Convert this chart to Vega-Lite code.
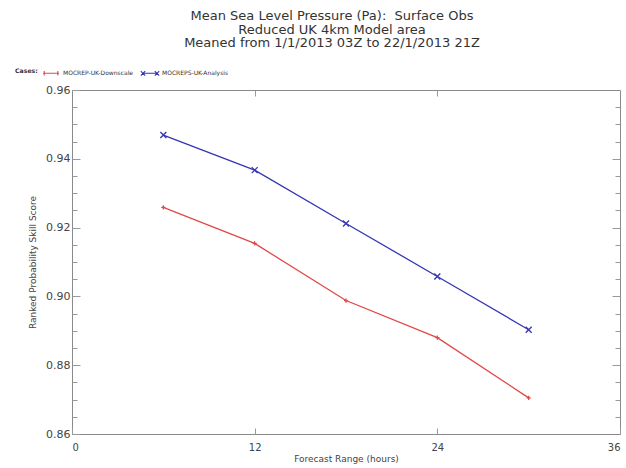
{
  "$schema": "https://vega.github.io/schema/vega-lite/v6.json",
  "width": 548,
  "height": 344,
  "autosize": "none",
  "padding": {"left": 72, "top": 90, "right": 6, "bottom": 34},
  "background": "white",
  "title": {
    "text": ["Mean Sea Level Pressure (Pa):\u00a0 Surface Obs", "Reduced UK 4km Model area", "Meaned from 1/1/2013 03Z to 22/1/2013 21Z"],
    "anchor": "middle",
    "frame": "group",
    "dx": -14,
    "offset": 14,
    "font": "DejaVu Sans",
    "fontSize": 13,
    "fontWeight": "normal",
    "lineHeight": 13.5,
    "color": "#333333"
  },
  "data": {
    "values": [
      {"hours": 6, "score": 0.9259, "series": "MOCREP-UK-Downscale"},
      {"hours": 12, "score": 0.9154, "series": "MOCREP-UK-Downscale"},
      {"hours": 18, "score": 0.8988, "series": "MOCREP-UK-Downscale"},
      {"hours": 24, "score": 0.8880, "series": "MOCREP-UK-Downscale"},
      {"hours": 30, "score": 0.8705, "series": "MOCREP-UK-Downscale"},
      {"hours": 6, "score": 0.9469, "series": "MOCREPS-UK-Analysis"},
      {"hours": 12, "score": 0.9367, "series": "MOCREPS-UK-Analysis"},
      {"hours": 18, "score": 0.9212, "series": "MOCREPS-UK-Analysis"},
      {"hours": 24, "score": 0.9058, "series": "MOCREPS-UK-Analysis"},
      {"hours": 30, "score": 0.8903, "series": "MOCREPS-UK-Analysis"}
    ]
  },
  "layer": [
    {
      "mark": {"type": "line", "strokeWidth": 1.3},
      "encoding": {
        "x": {
          "field": "hours", "type": "quantitative",
          "scale": {"domain": [0, 36], "nice": false, "zero": false},
          "axis": {"orient": "bottom", "values": [0, 12, 24, 36], "tickSize": -6, "labelPadding": 14, "title": "Forecast Range (hours)", "titlePadding": 2}
        },
        "y": {
          "field": "score", "type": "quantitative",
          "scale": {"domain": [0.86, 0.96], "nice": false, "zero": false},
          "axis": {"orient": "left", "values": [0.86, 0.88, 0.9, 0.92, 0.94, 0.96], "format": ".2f", "tickSize": -8, "labelPadding": 10, "title": "Ranked Probability Skill Score", "titlePadding": 8}
        },
        "color": {
          "field": "series", "type": "nominal",
          "scale": {"domain": ["MOCREP-UK-Downscale", "MOCREPS-UK-Analysis"], "range": ["#e24848", "#3535b5"]},
          "legend": {
            "orient": "none",
            "legendX": -57,
            "legendY": -26,
            "direction": "horizontal",
            "title": "Cases:",
            "titleOrient": "left",
            "titleFont": "DejaVu Sans",
            "titleFontSize": 6.2,
            "titleFontWeight": "bold",
            "titleColor": "#333333",
            "titlePadding": 4,
            "labelFont": "DejaVu Sans",
            "labelFontSize": 6,
            "labelColor": "#333333",
            "labelOffset": 3,
            "columnPadding": 4,
            "symbolSize": 256,
            "symbolStrokeWidth": 1.1,
            "symbolOpacity": 1
          }
        }
      }
    },
    {
      "transform": [{"filter": {"field": "series", "equal": "MOCREP-UK-Downscale"}}],
      "mark": {"type": "point", "filled": false, "size": 36, "strokeWidth": 1.3, "opacity": 1, "shape": "M-0.7,0H0.7M0,-0.7V0.7"},
      "encoding": {
        "x": {
          "field": "hours", "type": "quantitative",
          "axis": {"orient": "top", "values": [12, 24], "tickSize": -6, "labels": false, "title": null}
        },
        "y": {
          "field": "score", "type": "quantitative",
          "axis": {"orient": "right", "values": [0.88, 0.9, 0.92, 0.94], "tickSize": -8, "labels": false, "title": null}
        },
        "color": {"field": "series", "type": "nominal"}
      }
    },
    {
      "transform": [{"filter": {"field": "series", "equal": "MOCREPS-UK-Analysis"}}],
      "mark": {"type": "point", "filled": false, "size": 36, "strokeWidth": 1.3, "opacity": 1, "shape": "M-1,-1L1,1M-1,1L1,-1"},
      "encoding": {
        "x": {"field": "hours", "type": "quantitative", "axis": null},
        "y": {
          "field": "score", "type": "quantitative",
          "axis": {"orient": "left", "values": [0.865, 0.87, 0.875, 0.885, 0.89, 0.895, 0.905, 0.91, 0.915, 0.925, 0.93, 0.935, 0.945, 0.95, 0.955], "tickSize": -5, "labels": false, "title": null}
        },
        "color": {"field": "series", "type": "nominal"}
      }
    },
    {
      "transform": [{"filter": {"field": "hours", "lt": 0}}],
      "mark": {"type": "point", "filled": false, "size": 256, "strokeWidth": 1.1},
      "encoding": {
        "x": {"field": "hours", "type": "quantitative", "axis": null},
        "y": {
          "field": "score", "type": "quantitative",
          "axis": {"orient": "right", "values": [0.865, 0.87, 0.875, 0.885, 0.89, 0.895, 0.905, 0.91, 0.915, 0.925, 0.93, 0.935, 0.945, 0.95, 0.955], "tickSize": -5, "labels": false, "title": null}
        },
        "color": {"field": "series", "type": "nominal"},
        "shape": {
          "field": "series", "type": "nominal",
          "scale": {"domain": ["MOCREP-UK-Downscale", "MOCREPS-UK-Analysis"], "range": ["M-1,0H1M-0.85,-0.28V0.28M0.85,-0.28V0.28", "M-1,0H1M-1.15,-0.28L-0.6,0.28M-1.15,0.28L-0.6,-0.28M0.6,-0.28L1.15,0.28M0.6,0.28L1.15,-0.28"]},
          "legend": {"title": "Cases:"}
        }
      }
    }
  ],
  "resolve": {"axis": {"x": "independent", "y": "independent"}},
  "config": {
    "view": {"stroke": "#8a8a8a", "strokeWidth": 1},
    "axis": {
      "domain": false,
      "grid": false,
      "tickColor": "#999999",
      "tickWidth": 1,
      "labelFont": "DejaVu Sans",
      "labelFontSize": 10,
      "labelColor": "#444444",
      "titleFont": "DejaVu Sans",
      "titleFontSize": 9,
      "titleFontWeight": "normal",
      "titleColor": "#444444"
    },
    "axisY": {"labelFontSize": 11}
  }
}
